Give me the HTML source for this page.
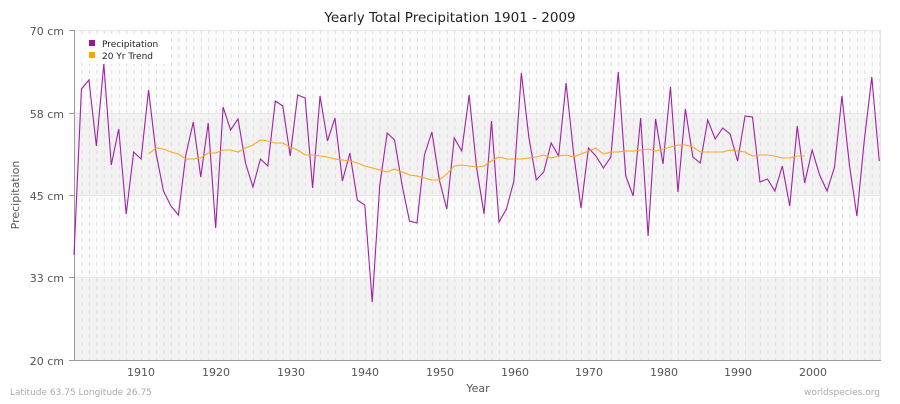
<!DOCTYPE html>
<html><head><meta charset="utf-8"><style>
body{margin:0;background:#fff;width:900px;height:400px;overflow:hidden;font-family:"DejaVu Sans",sans-serif}
</style></head><body>
<svg width="900" height="400" xmlns="http://www.w3.org/2000/svg" font-family="DejaVu Sans, sans-serif">
<defs>
<pattern id="vg" x="74" y="0" width="7.456" height="400" patternUnits="userSpaceOnUse">
<line x1="0.5" y1="30" x2="0.5" y2="360" stroke="#ddd" stroke-width="1" stroke-dasharray="4,4"/>
</pattern>
</defs>
<rect x="0" y="0" width="900" height="400" fill="#fff"/>
<text x="450" y="22" text-anchor="middle" font-size="13.5" fill="#222">Yearly Total Precipitation 1901 - 2009</text>
<rect x="75" y="30" width="806" height="83" fill="#fbfbfb"/>
<rect x="75" y="113" width="806" height="82" fill="#f2f2f2"/>
<rect x="75" y="195" width="806" height="82" fill="#fbfbfb"/>
<rect x="75" y="277" width="806" height="83" fill="#f2f2f2"/>
<rect x="75" y="30" width="806" height="330" fill="url(#vg)"/>
<g stroke="#e6e6e6" stroke-width="1">
<line x1="75" y1="30.5" x2="881" y2="30.5"/>
<line x1="75" y1="113.5" x2="881" y2="113.5"/>
<line x1="75" y1="195.5" x2="881" y2="195.5"/>
<line x1="75" y1="277.5" x2="881" y2="277.5"/>
<line x1="880.5" y1="30" x2="880.5" y2="360"/>
</g>
<g stroke="#999" stroke-width="1">
<line x1="74.5" y1="30" x2="74.5" y2="360"/>
<line x1="74" y1="360.5" x2="881" y2="360.5"/>
<line x1="69" y1="30.5" x2="75" y2="30.5"/>
<line x1="69" y1="113.5" x2="75" y2="113.5"/>
<line x1="69" y1="195.5" x2="75" y2="195.5"/>
<line x1="69" y1="277.5" x2="75" y2="277.5"/>
<line x1="69" y1="360.5" x2="75" y2="360.5"/>
</g>
<g font-size="11" fill="#555" text-anchor="end">
<text x="64" y="35">70 cm</text>
<text x="64" y="118">58 cm</text>
<text x="64" y="200">45 cm</text>
<text x="64" y="282">33 cm</text>
<text x="64" y="365">20 cm</text>
</g>
<g font-size="11" fill="#555" text-anchor="middle">
<text x="141" y="376">1910</text><text x="216" y="376">1920</text><text x="291" y="376">1930</text>
<text x="365" y="376">1940</text><text x="440" y="376">1950</text><text x="515" y="376">1960</text>
<text x="589" y="376">1970</text><text x="664" y="376">1980</text><text x="738" y="376">1990</text>
<text x="813" y="376">2000</text>
</g>
<text x="478" y="392" text-anchor="middle" font-size="11" fill="#555">Year</text>
<text transform="translate(19,195) rotate(-90)" text-anchor="middle" font-size="11" fill="#555">Precipitation</text>
<text x="10" y="395" font-size="9" fill="#aaa">Latitude 63.75 Longitude 26.75</text>
<text x="880" y="395" font-size="9" fill="#aaa" text-anchor="end">worldspecies.org</text>
<g transform="translate(74,0) scale(7.456,1)">
<polyline fill="none" stroke="#a020a8" stroke-width="1.1" vector-effect="non-scaling-stroke" points="0,255 1,89 2,80 3,146 4,64 5,165 6,129 7,214 8,152 9,159 10,90 11,153 12,191 13,206 14,215 15,155 16,122 17,177 18,123 19,228 20,107 21,130 22,119 23,163 24,187 25,159 26,166 27,101 28,106 29,156 30,95 31,98 32,188 33,96 34,141 35,118 36,181 37,153 38,200 39,205 40,302 41,186 42,133 43,140 44,185 45,221 46,223 47,155 48,132 49,180 50,209 51,138 52,151 53,95 54,168 55,214 56,121 57,222 58,209 59,181 60,73 61,137 62,180 63,172 64,143 65,156 66,83 67,153 68,208 69,148 70,156 71,168 72,157 73,72 74,176 75,196 76,118 77,236 78,119 79,164 80,87 81,192 82,109 83,157 84,163 85,120 86,139 87,128 88,134 89,161 90,116 91,117 92,182 93,179 94,191 95,166 96,206 97,126 98,183 99,150 100,175 101,191 102,167 103,96 104,165 105,216 106,140 107,77 108,161"/>
<polyline fill="none" stroke="#ffa520" stroke-width="1.1" vector-effect="non-scaling-stroke" points="10,154 11,148 12,149 13,152 14,154 15,159 16,159 17,158 18,153 19,153 20,150 21,150 22,152 23,148 24,145 25,140 26,141 27,143 28,143 29,147 30,150 31,155 32,155 33,156 34,157 35,159 36,160 37,161 38,163 39,166 40,168 41,170 42,172 43,169 44,172 45,175 46,176 47,178 48,180 49,180 50,174 51,166 52,165 53,166 54,167 55,166 56,161 57,157 58,159 59,159 60,159 61,158 62,157 63,155 64,158 65,156 66,155 67,157 68,154 69,151 70,148 71,154 72,152 73,152 74,151 75,151 76,150 77,149 78,151 79,149 80,147 81,145 82,145 83,147 84,152 85,152 86,152 87,152 88,150 89,151 90,152 91,156 92,155 93,155 94,156 95,158 96,158 97,156 98,156"/>
</g>
<rect x="81" y="34" width="90" height="30" rx="4" fill="#fff" opacity="0.9"/>
<rect x="89" y="40" width="6" height="6" fill="#a0119c"/>
<text x="102" y="47" font-size="9" fill="#222">Precipitation</text>
<rect x="89" y="52" width="6" height="6" fill="#ffa500"/>
<text x="102" y="59" font-size="9" fill="#222">20 Yr Trend</text>
</svg>
</body></html>
